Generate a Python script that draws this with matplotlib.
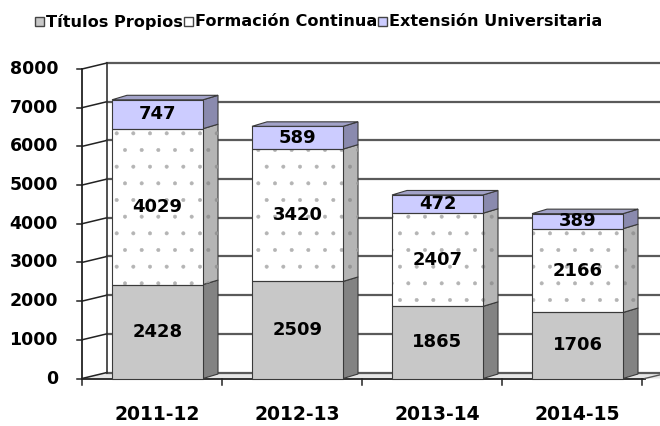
import numpy as np
import matplotlib.pyplot as plt
from matplotlib.patches import Polygon, Rectangle

years = ['2011-12', '2012-13', '2013-14', '2014-15']
titulos = [2428, 2509, 1865, 1706]
formacion = [4029, 3420, 2407, 2166]
extension = [747, 589, 472, 389]
series_names = ['Títulos Propios', 'Formación Continua', 'Extensión Universitaria']
yticks = [0, 1000, 2000, 3000, 4000, 5000, 6000, 7000, 8000]

FONT = 'DejaVu Sans'
EDGE = '#3a3a3a'

# pixel based layout helpers (figure 660x426)
PX_CAT = 140.0
PX_VAL = 309.5 / 8000
WX, WY = 25 / PX_CAT, 6 / PX_VAL      # back wall depth
BX, BY = 15 / PX_CAT, 4.5 / PX_VAL    # bar depth
BAR_W = 91 / PX_CAT
BAR_OFF = 30 / PX_CAT


def main():
    plt.rcParams['hatch.linewidth'] = 0.4
    fig = plt.figure(figsize=(6.6, 4.26), dpi=100)
    ax = fig.add_axes([0, 0, 1, 1])
    ax.set_xlim(-0.5 - 82 / PX_CAT, -0.5 + 578 / PX_CAT)
    ax.set_ylim(-47.5 / PX_VAL, 378.5 / PX_VAL)
    ax.axis('off')

    xr = ax.get_xlim()[1]
    top = yticks[-1]
    n = len(years)

    # floor
    floor = Polygon([(-0.5, 0), (-0.5 + WX, WY), (xr, WY), (xr, 0)],
                    closed=True, facecolor='#e6e6e6', edgecolor='none', zorder=0)
    ax.add_patch(floor)

    # back wall grid and left wall
    for v in yticks:
        ax.plot([-0.5 + WX, xr], [v + WY, v + WY], color='#5a5a5a', lw=1.6, zorder=1)
        ax.plot([-0.5, -0.5 + WX], [v, v + WY], color='#222222', lw=1.1, zorder=1)
        ax.plot([-0.5 - 5 / PX_CAT, -0.5], [v, v], color='#222222', lw=1.1, zorder=1)
        ax.text(-0.5 - 24 / PX_CAT, v, str(v), ha='right', va='center',
                fontsize=12.5, fontweight='bold', family=FONT)
    ax.plot([-0.5 + WX, -0.5 + WX], [WY, top + WY], color='#333333', lw=1.2, zorder=1)
    ax.plot([-0.5, -0.5], [0, top], color='#222222', lw=1.3, zorder=1)
    ax.plot([-0.5, 3.5 + 0.02], [0, 0], color='#222222', lw=1.3, zorder=1)
    ax.plot([3.5 + 0.02, 3.5 + 0.02 + WX], [0, WY], color='#555555', lw=1.0, zorder=1)
    for k in range(n + 1):
        ax.plot([-0.5 + k, -0.5 + k], [0, -6 / PX_VAL], color='#222222', lw=1.1, zorder=1)

    x = np.arange(n)
    x0 = x - 0.5 + BAR_OFF
    layers = [
        (titulos, '#c8c8c8', '#838383', '#a8a8a8', None),
        (formacion, '#ffffff', '#b5b5b5', '#dddddd', '.'),
        (extension, '#ccccff', '#8a8aae', '#a2a2c8', None),
    ]
    bottom = np.zeros(n)
    for vals, front, side, topc, hatch in layers:
        vals = np.array(vals, float)
        for i in range(n):
            xa, xb = x0[i], x0[i] + BAR_W
            y0, y1 = bottom[i], bottom[i] + vals[i]
            sp = Polygon([(xb, y0), (xb + BX, y0 + BY), (xb + BX, y1 + BY), (xb, y1)],
                         closed=True, facecolor=side, edgecolor=EDGE, lw=0.8, zorder=3)
            ax.add_patch(sp)
            if hatch:
                ax.add_patch(Polygon(sp.get_xy(), closed=True, facecolor='none',
                                     edgecolor='#959595', hatch=hatch, lw=0, zorder=3))
        ax.bar(x0, vals, BAR_W, bottom=bottom, align='edge', color=front,
               edgecolor='#b4b4b4' if hatch else front, hatch=hatch, lw=0, zorder=4)
        ax.bar(x0, vals, BAR_W, bottom=bottom, align='edge', fill=False,
               edgecolor=EDGE, lw=0.8, zorder=5)
        for i in range(n):
            ax.text(x0[i] + BAR_W / 2, bottom[i] + vals[i] / 2, str(int(vals[i])),
                    ha='center', va='center', fontsize=13, fontweight='bold',
                    family=FONT, zorder=6)
        bottom = bottom + vals

    # top faces of the stacks
    for i in range(n):
        xa, xb, yt = x0[i], x0[i] + BAR_W, bottom[i]
        ax.add_patch(Polygon([(xa, yt), (xa + BX, yt + BY), (xb + BX, yt + BY), (xb, yt)],
                             closed=True, facecolor=layers[-1][3], edgecolor=EDGE,
                             lw=0.8, zorder=5))

    for i, lab in enumerate(years):
        ax.text(x[i] + 0.035, -36 / PX_VAL, lab, ha='center', va='center',
                fontsize=13.5, fontweight='bold', family=FONT)

    # legend row
    fig.canvas.draw()
    r = fig.canvas.get_renderer()
    px = 35.0
    colors = ['#c8c8c8', '#ffffff', '#ccccff']
    for name, c in zip(series_names, colors):
        fig.patches.append(Rectangle((px / 660, 1 - 26 / 426), 9 / 660, 9 / 426,
                                     transform=fig.transFigure, facecolor=c,
                                     edgecolor='#444444', lw=1.0))
        t = fig.text((px + 11) / 660, 1 - 21.5 / 426, name, ha='left', va='center',
                     fontsize=11.6, fontweight='bold', family=FONT)
        bb = t.get_window_extent(renderer=r)
        px = bb.x1 + 1

    fig.savefig('out.png', dpi=100)


if __name__ == "__main__":
    main()
